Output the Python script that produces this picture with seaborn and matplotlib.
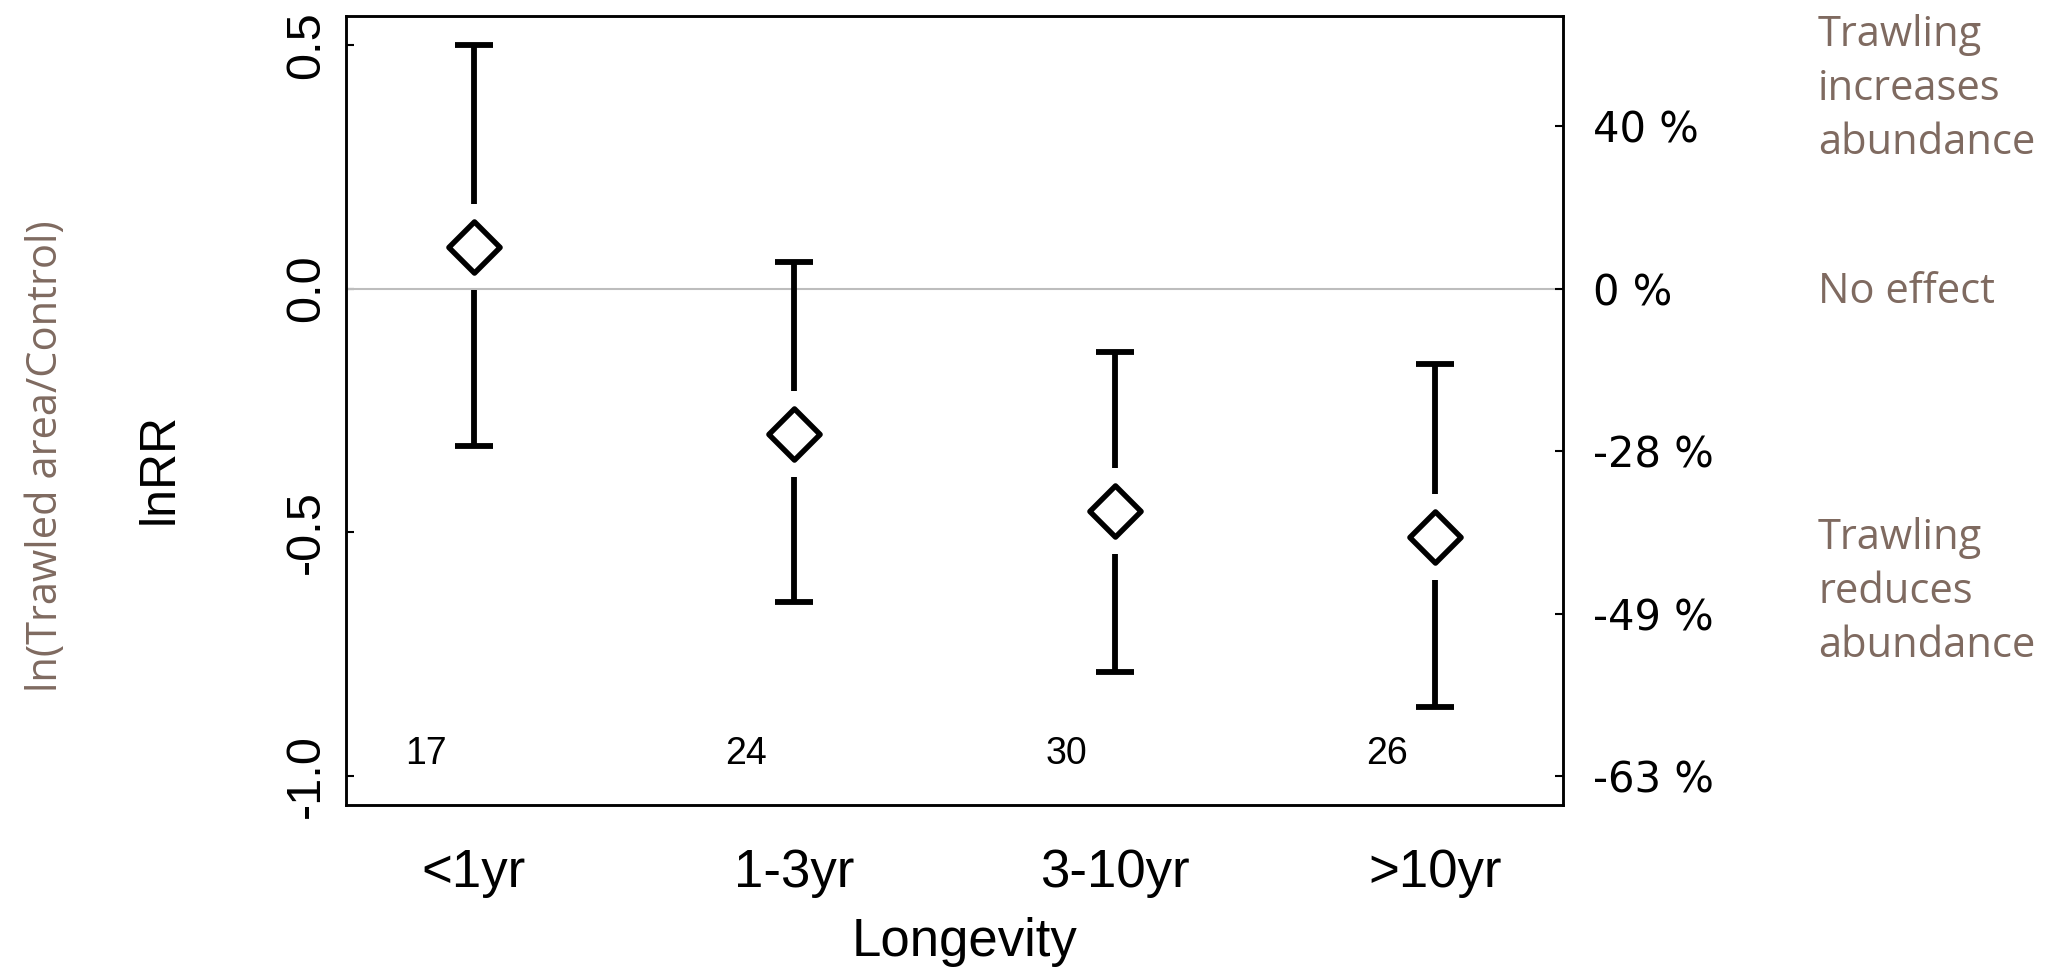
import numpy as np
import pandas as pd
import matplotlib
matplotlib.use("Agg")
import matplotlib.pyplot as plt
import seaborn as sns

# ---------------- data ----------------
categories = ["<1yr", "1-3yr", "3-10yr", ">10yr"]
mean_lnrr = [0.085, -0.298, -0.456, -0.509]
upper_ci = [0.500, 0.054, -0.131, -0.155]
lower_ci = [-0.324, -0.643, -0.786, -0.858]
n_studies = [17, 24, 30, 26]
left_ticks = [-1.0, -0.5, 0.0, 0.5]
left_tick_labels = ["-1.0", "-0.5", "0.0", "0.5"]
right_ticks = [0.333, 0.0, -0.333, -0.667, -1.0]
right_tick_labels = ["40 %", "0 %", "-28 %", "-49 %", "-63 %"]

# ---------------- style ----------------
sns.set_theme(style="white")
plt.rcParams["font.family"] = ["Liberation Sans", "DejaVu Sans"]
BROWN = "#7F6A60"

W, H, DPI = 2060, 967, 100
fig = plt.figure(figsize=(W / DPI, H / DPI), dpi=DPI)
ax_l, ax_r, ax_t, ax_b = 345.5, 1563.4, 15.8, 805.0
ax = fig.add_axes([ax_l / W, 1 - ax_b / H, (ax_r - ax_l) / W, (ax_b - ax_t) / H])

ylim = (-1.06, 0.56)
xlim = (-0.4, 3.4)
px_per_y = (ax_b - ax_t) / (ylim[1] - ylim[0])
px_per_x = (ax_r - ax_l) / (xlim[1] - xlim[0])
gap = 43 / px_per_y          # gap of the CI line around the point
cap = 19 / px_per_x          # half width of the caps

df = pd.DataFrame({"Longevity": categories, "lnRR": mean_lnrr,
                   "lower": lower_ci, "upper": upper_ci, "n": n_studies})
pos = np.arange(len(categories))

ax.axhline(0, color="#BDBDBD", lw=1.5, zorder=1)

sns.scatterplot(data=df, x="Longevity", y="lnRR", marker="D", s=680,
                color="white", edgecolor="black", linewidth=3.9,
                zorder=5, ax=ax, legend=False)

m = df["lnRR"].to_numpy()
LW = 4.2
ax.vlines(pos, m + gap, df["upper"], color="black", lw=LW, zorder=3, capstyle="butt")
ax.vlines(pos, df["lower"], m - gap, color="black", lw=LW, zorder=3, capstyle="butt")
ax.hlines(df["upper"], pos - cap, pos + cap, color="black", lw=LW, zorder=3, capstyle="butt")
ax.hlines(df["lower"], pos - cap, pos + cap, color="black", lw=LW, zorder=3, capstyle="butt")

for p, c in zip(pos, df["n"]):
    ax.text(p - 0.15, -0.955, str(c), fontsize=27, ha="center", va="center",
            color="black")

ax.set_xlim(*xlim)
ax.set_ylim(*ylim)

ax.set_xticks(pos)
ax.set_xticklabels(categories, fontsize=38)
ax.set_yticks(left_ticks)
ax.set_yticklabels(left_tick_labels, rotation=90, va="center", fontsize=35)
ax.tick_params(axis="both", direction="in", length=6, width=1.5, color="black",
               labelcolor="black")
ax.tick_params(axis="y", pad=12)
ax.tick_params(axis="x", pad=31)
for s in ax.spines.values():
    s.set_color("black")
    s.set_linewidth(1.8)

ax.set_xlabel("Longevity", fontsize=38, color="black", va="center")
ax.xaxis.set_label_coords((965 - ax_l) / (ax_r - ax_l), -(942 - ax_b) / (ax_b - ax_t))
ax.set_ylabel("lnRR", fontsize=36, color="black", va="center")
ax.yaxis.set_label_coords((160 - ax_l) / (ax_r - ax_l), 1 - (468 - ax_t) / (ax_b - ax_t))

ax2 = ax.twinx()
ax2.set_ylim(*ylim)
ax2.set_yticks(right_ticks)
ax2.set_yticklabels(right_tick_labels, fontsize=30, family="DejaVu Sans")
ax2.tick_params(axis="y", direction="in", length=6, width=1.5, color="black",
                labelcolor="black", pad=21)
ax2.grid(False)
for s in ax2.spines.values():
    s.set_color("black")
    s.set_linewidth(1.8)

# ---------------- annotations ----------------
fig.text(46 / W, 1 - 456 / H, "ln(Trawled area/Control)", rotation=90,
         ha="center", va="center", fontsize=30, family="Open Sans", color=BROWN)
fig.text(1818 / W, 1 - 89 / H, "Trawling\nincreases\nabundance", ha="left",
         va="center", fontsize=30, family="Open Sans", color=BROWN, linespacing=1.36)
fig.text(1818 / W, 1 - 292 / H, "No effect", ha="left", va="center",
         fontsize=30, family="Open Sans", color=BROWN)
fig.text(1818 / W, 1 - 592 / H, "Trawling\nreduces\nabundance", ha="left",
         va="center", fontsize=30, family="Open Sans", color=BROWN, linespacing=1.36)

fig.savefig("out.png", dpi=DPI, facecolor="white")
